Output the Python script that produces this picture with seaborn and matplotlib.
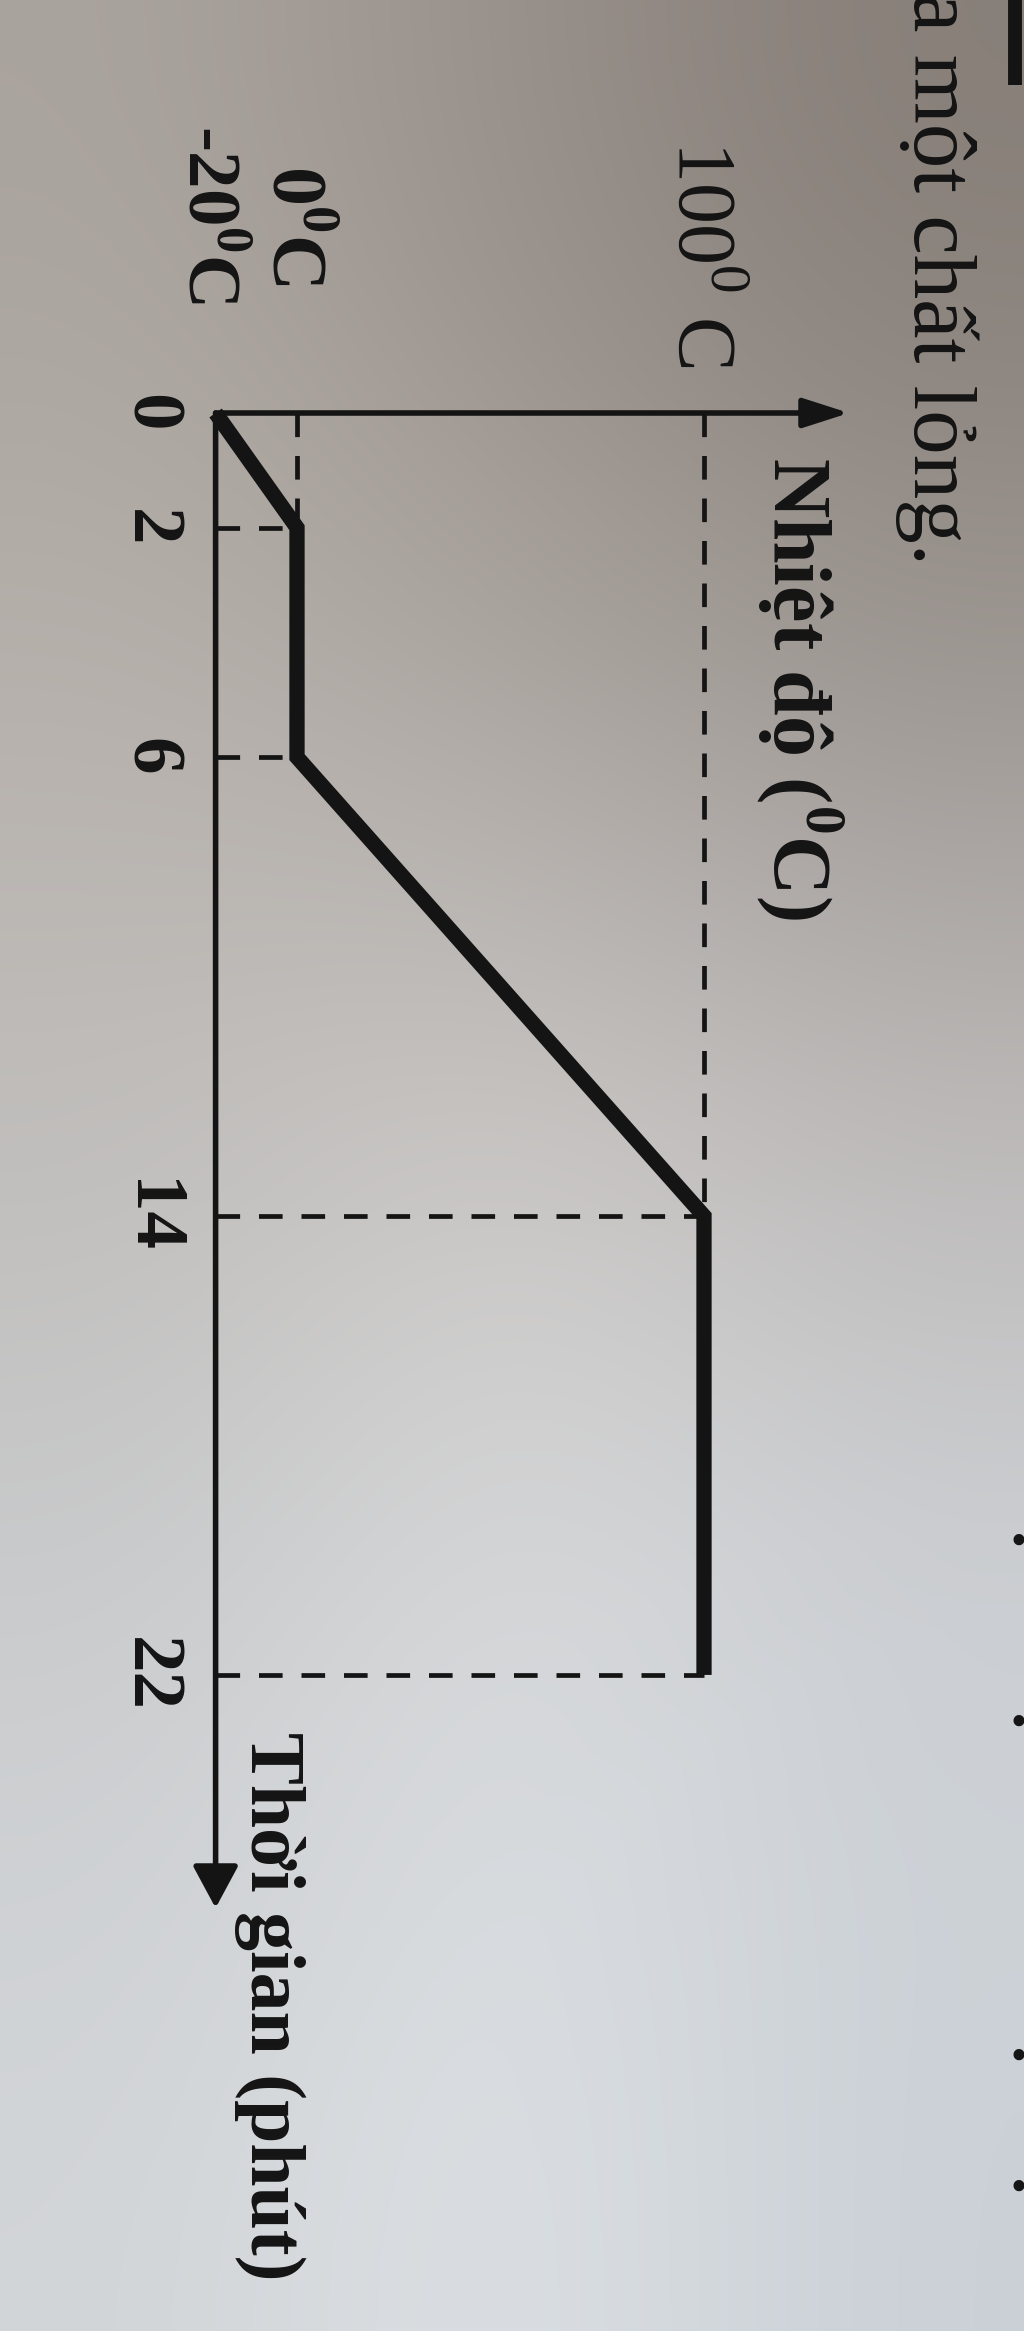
import numpy as np
import matplotlib
matplotlib.use('Agg')
import matplotlib.pyplot as plt
import seaborn as sns

# Heating curve of a liquid (textbook figure, photographed rotated 90 degrees)
time_min = [0, 2, 6, 14, 22]
temp_c = [-20, 0, 0, 100, 100]

tick_times = [0, 2, 6, 14, 22]
tick_labels = ['0', '2', '6', '14', '22']

temp_labels = ['100$^{0}$ C', r'0$^{\mathbf{0}}$C', r'-20$^{\mathbf{0}}$C']

caption = 'a một chất lỏng.'
temp_title = r'Nhiệt độ ($^{\mathbf{0}}$C)'
time_title = 'Thời gian (phút)'

# page layout: pixel position of 0 degC / t=0 and scale of each axis
W, H = 1024, 2331
X0, PX_PER_DEG = 297.0, 4.07
Y0, PX_PER_MIN = 413.0, 57.36


def px_T(px):
    return (px - X0) / PX_PER_DEG


def px_t(py):
    return (py - Y0) / PX_PER_MIN


sns.set_theme(style='white')
plt.rcParams['font.family'] = ['Liberation Serif', 'DejaVu Serif']
plt.rcParams['mathtext.fontset'] = 'custom'
plt.rcParams['mathtext.rm'] = 'Liberation Serif'
plt.rcParams['mathtext.bf'] = 'Liberation Serif:bold'

fig = plt.figure(figsize=(W / 100, H / 100), dpi=100)

# photographed paper background (lighting gradient)
paper = np.array([
    [(170, 164, 158), (152, 144, 138), (134, 126, 119)],
    [(184, 178, 173), (172, 166, 161), (158, 152, 148)],
    [(192, 190, 188), (208, 205, 203), (192, 189, 188)],
    [(202, 204, 206), (218, 220, 222), (206, 210, 215)],
    [(210, 213, 216), (222, 226, 230), (202, 208, 214)],
]) / 255.0
bg = fig.add_axes([0, 0, 1, 1])
bg.imshow(paper, aspect='auto', interpolation='bicubic', extent=(0, 1, 0, 1))
bg.set_axis_off()

ax = fig.add_axes([0, 0, 1, 1])
ax.patch.set_alpha(0)
ax.set_xlim(px_T(0), px_T(W))
ax.set_ylim(px_t(H), px_t(0))
ax.set_axis_off()

ink = '#141414'
t_min = min(temp_c)

# axes with arrows
ax.annotate('', xy=(px_T(849), 0), xytext=(t_min, 0),
            arrowprops=dict(arrowstyle='-|>,head_length=1.4,head_width=0.45',
                            mutation_scale=20, lw=4, color=ink,
                            shrinkA=0, shrinkB=0))
ax.annotate('', xy=(t_min, px_t(1908)), xytext=(t_min, 0),
            arrowprops=dict(arrowstyle='-|>,head_length=1.3,head_width=0.7',
                            mutation_scale=20, lw=4, color=ink,
                            shrinkA=0, shrinkB=0))

# dashed guide lines to each corner of the curve
dash = dict(color=ink, lw=3.4, linestyle=(0, (5, 4)), solid_capstyle='butt')
seen = set()
for t, T in zip(time_min[1:], temp_c[1:]):
    ax.plot([t_min, T], [t, t], **dash)
    if T not in seen:
        ax.plot([T, T], [0, t], **dash)
        seen.add(T)

# the heating curve
sns.lineplot(x=temp_c, y=time_min, sort=False, estimator=None, ax=ax,
             color=ink, lw=11, solid_joinstyle='miter', solid_capstyle='butt')

# all text is rotated -90: anchor = (baseline x, start of text y)
rot = dict(rotation=-90, rotation_mode='anchor', color=ink)

# time tick labels
for t, lab in zip(tick_times, tick_labels):
    ax.text(px_T(131), t, lab, ha='center', va='baseline',
            fontsize=54, fontweight='bold', **rot)

# temperature labels
ax.text(px_T(679), px_t(140), temp_labels[0], ha='left', va='baseline',
        fontsize=59, **rot)
ax.text(px_T(273), px_t(165), temp_labels[1], ha='left', va='baseline',
        fontsize=56, fontweight='bold', **rot)
ax.text(px_T(188), px_t(125), temp_labels[2], ha='left', va='baseline',
        fontsize=54, fontweight='bold', **rot)

# axis titles
ax.text(px_T(774), px_t(457), temp_title, ha='left', va='baseline',
        fontsize=59, fontweight='bold', **rot)
ax.text(px_T(251), px_t(1732), time_title, ha='left', va='baseline',
        fontsize=56, fontweight='bold', **rot)

# running text of the page
ax.text(px_T(914), px_t(-8), caption, ha='left', va='baseline',
        fontsize=64, **rot)

# fragments of neighbouring page text at the edges
for py in [1542, 1723, 2057, 2188]:
    ax.text(px_T(1010), px_t(py), '.', ha='center', va='baseline',
            fontsize=50, fontweight='bold', **rot)
ax.plot([px_T(1015), px_T(1015)], [px_t(0), px_t(85)], color=ink, lw=10,
        solid_capstyle='butt')

fig.savefig('out.png', dpi=100)
